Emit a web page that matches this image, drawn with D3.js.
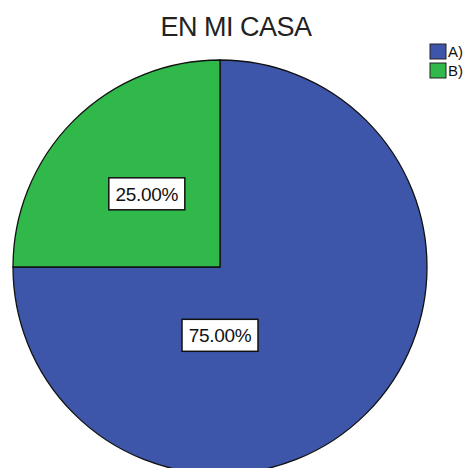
<!DOCTYPE html>
<html>
<head>
<meta charset="utf-8">
<script src="https://cdn.jsdelivr.net/npm/d3@7"></script>
<style>
  body { margin: 0; background: #fff; }
  text { font-family: "Liberation Sans", Arial, sans-serif; }
</style>
</head>
<body>
<div id="chart"></div>
<script>
// Chart data
const categories = ['A)', 'B)'];
const percents = [75, 25];
const colors = ['#3e56aa', '#30b84a'];
const title = 'EN MI CASA';

const width = 476;
const height = 468;
const cx = 220, cy = 267, radius = 207;

const svg = d3.select('#chart').append('svg')
  .attr('width', width)
  .attr('height', height);

// Title
svg.append('text')
  .attr('x', 236)
  .attr('y', 36)
  .attr('text-anchor', 'middle')
  .attr('font-size', 27)
  .attr('letter-spacing', -0.5)
  .attr('fill', '#222')
  .text(title);

const pie = d3.pie().sort(null).value(d => d)(percents);
const arc = d3.arc().innerRadius(0).outerRadius(radius);

const g = svg.append('g').attr('transform', `translate(${cx},${cy})`);

g.selectAll('path')
  .data(pie)
  .enter()
  .append('path')
  .attr('d', arc)
  .attr('fill', (d, i) => colors[i])
  .attr('stroke', '#111')
  .attr('stroke-width', 1.3);

// Label placement (SPSS-like): angle and radius fraction per slice
const labelPos = [
  { angle: Math.PI, r: 0.33 },
  { angle: pie[1].startAngle + (pie[1].endAngle - pie[1].startAngle) / 2, r: 0.5 }
];

const labels = g.selectAll('.lbl')
  .data(pie)
  .enter()
  .append('g')
  .attr('class', 'lbl')
  .attr('transform', (d, i) => {
    const p = labelPos[i];
    const x = Math.sin(p.angle) * radius * p.r;
    const y = -Math.cos(p.angle) * radius * p.r;
    return `translate(${x},${y})`;
  });

labels.append('rect')
  .attr('x', -38)
  .attr('y', -16)
  .attr('width', 76)
  .attr('height', 32)
  .attr('fill', '#fff')
  .attr('stroke', '#111')
  .attr('stroke-width', 1.5);

labels.append('text')
  .attr('text-anchor', 'middle')
  .attr('y', 7)
  .attr('font-size', 19)
  .attr('letter-spacing', -0.3)
  .attr('fill', '#111')
  .text(d => d.data.toFixed(2) + '%');

// Legend
const legend = svg.append('g')
  .attr('class', 'legend')
  .attr('transform', 'translate(430, 44)');

const items = legend.selectAll('.legend-item')
  .data(categories)
  .enter()
  .append('g')
  .attr('class', 'legend-item')
  .attr('transform', (d, i) => `translate(0, ${i * 19})`);

items.append('rect')
  .attr('width', 16)
  .attr('height', 15)
  .attr('fill', (d, i) => colors[i])
  .attr('stroke', '#222')
  .attr('stroke-width', 1);

items.append('text')
  .attr('x', 18)
  .attr('y', 13)
  .attr('font-size', 15)
  .attr('fill', '#111')
  .text(d => d);
</script>
</body>
</html>
